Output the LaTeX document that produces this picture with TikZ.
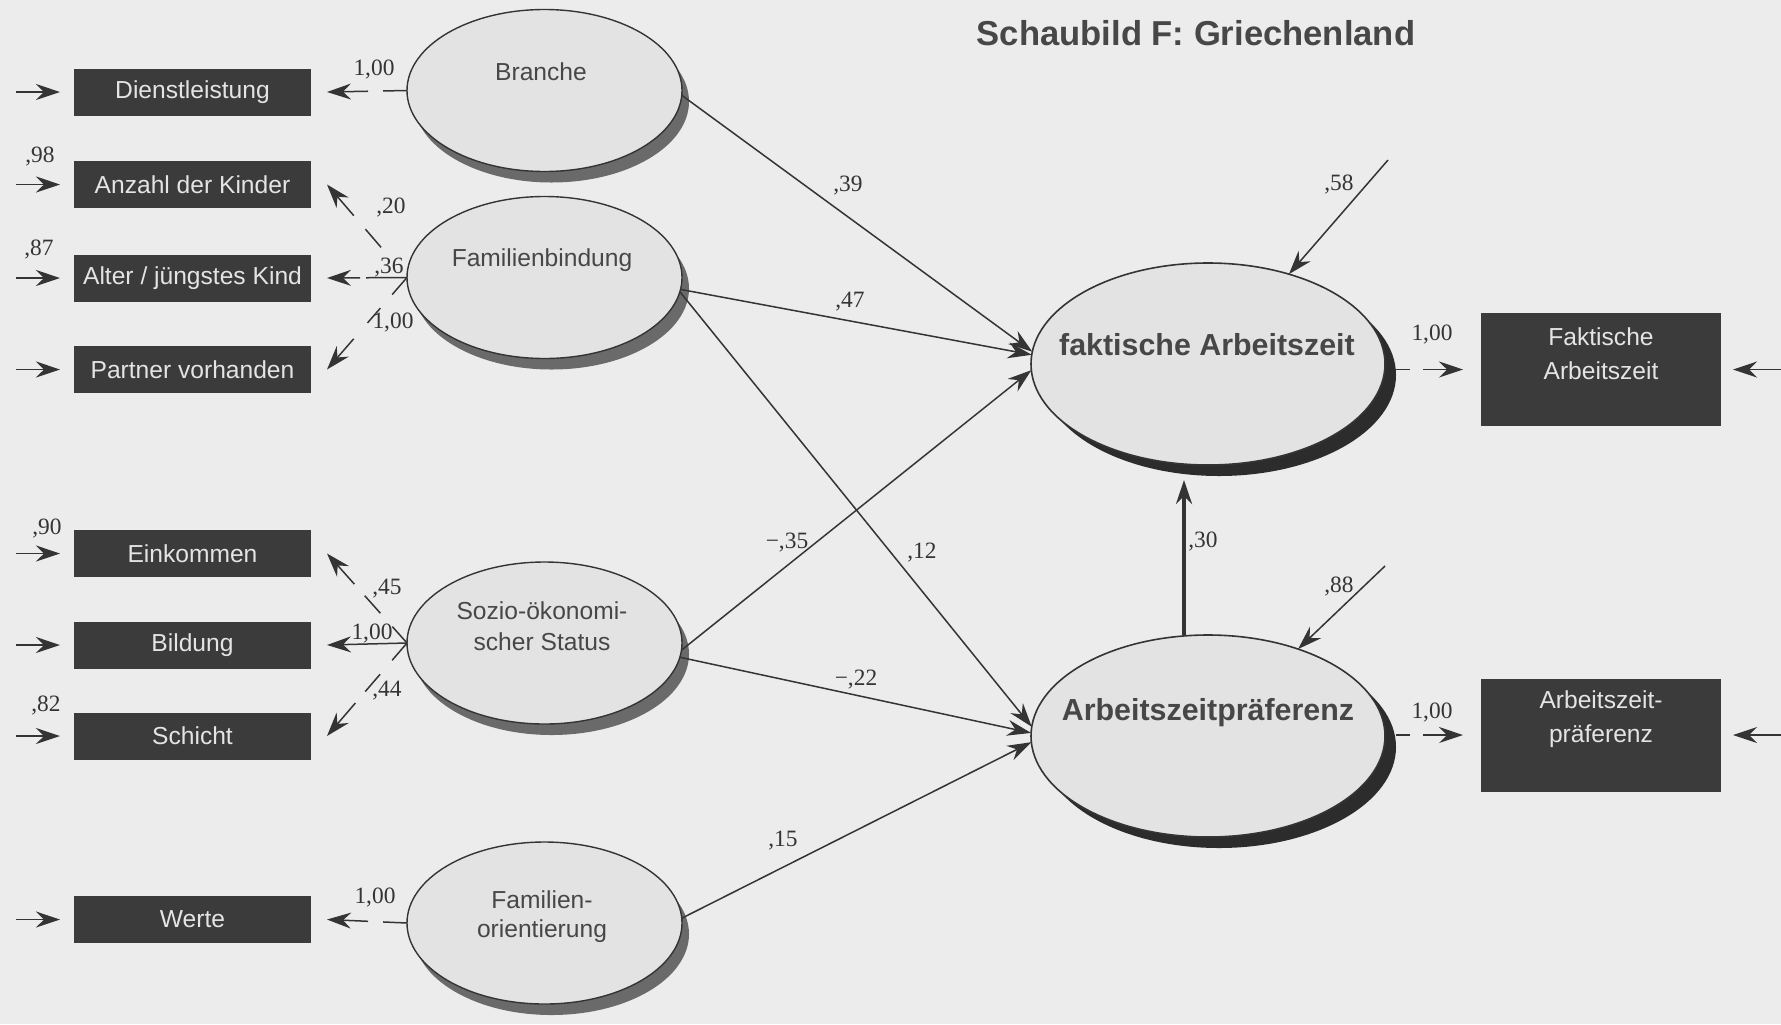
\documentclass[tikz,border=0pt]{standalone}
\usepackage{fontspec}
\setmainfont{Liberation Sans}
\newfontfamily\numfont{Liberation Serif}
\usetikzlibrary{arrows.meta,shapes.geometric,shadows,calc}
\definecolor{bg}{HTML}{ECECEC}
\definecolor{boxfill}{HTML}{3B3B3B}
\definecolor{boxtext}{HTML}{E4E4E4}
\definecolor{ellfill}{HTML}{E3E3E3}
\definecolor{ink}{HTML}{343434}
\definecolor{txt}{HTML}{474747}
\definecolor{shadL}{HTML}{6A6A6A}
\definecolor{shadR}{HTML}{2C2C2C}
\begin{document}
\begin{tikzpicture}[x=0.5pt,y=-0.5pt,
  every node/.style={inner sep=0pt,outer sep=0pt},
  obs/.style={fill=boxfill,minimum width=118.5pt,minimum height=23.5pt,text=boxtext,font=\fontsize{12.3pt}{14pt}\selectfont},
  obsR/.style={fill=boxfill,minimum width=120pt,minimum height=56.5pt},
  obstext/.style={text=boxtext,font=\fontsize{12.3pt}{14pt}\selectfont,anchor=base},
  lat/.style={ellipse,draw=ink,line width=0.7pt,fill=ellfill,minimum width=137.5pt,minimum height=81pt,
    drop shadow={shadow xshift=3.5pt,shadow yshift=-5.5pt,fill=shadL,opacity=1}},
  dv/.style={ellipse,draw=ink,line width=0.8pt,fill=ellfill,minimum width=177pt,minimum height=101pt,
    drop shadow={shadow xshift=5.5pt,shadow yshift=-5.5pt,fill=shadR,opacity=1}},
  lattext/.style={text=txt,font=\fontsize{12.3pt}{14pt}\selectfont,anchor=base},
  dvtext/.style={text=txt,font=\fontsize{15.2pt}{18pt}\selectfont\bfseries,anchor=base},
  num/.style={text=ink,font=\numfont\fontsize{11.7pt}{13pt}\selectfont},
  arr/.style={draw=ink,line width=0.75pt,-{Stealth[length=12pt,width=8pt,inset=4pt]}}
]
\useasboundingbox (0,0) rectangle (1781,1024);
\fill[bg] (0,0) rectangle (1781,1024);

% title
\node[text=txt,font=\fontsize{17.3pt}{20pt}\selectfont\bfseries,anchor=base] (title) at (1196,45) {Schaubild F: Griechenland};

% observed indicators (left)
\node[obs] (dl) at (192.5,92) {Dienstleistung};
\node[obs] (ak) at (192.5,184.5) {Anzahl der Kinder};
\node[obs] (aj) at (192.5,278) {Alter / jüngstes Kind};
\node[obs] (pv) at (192.5,369.5) {Partner vorhanden};
\node[obs] (ek) at (192.5,553.5) {Einkommen};
\node[obs] (bi) at (192.5,645) {Bildung};
\node[obs] (sc) at (192.5,736) {Schicht};
\node[obs] (we) at (192.5,919.5) {Werte};

% latent variables (left)
\node[lat] (br) at (544.5,90.5) {};
\node[lat] (fb) at (544.5,277.5) {};
\node[lat] (so) at (544.5,643) {};
\node[lat] (fo) at (544.5,923) {};
\node[lattext] (brt) at (541,80) {Branche};
\node[lattext] (fbt) at (542,266) {Familienbindung};
\node[lattext] (sot1) at (542,619) {Sozio-ökonomi-};
\node[lattext] (sot2) at (542,650) {scher Status};
\node[lattext] (fot1) at (542,908) {Familien-};
\node[lattext] (fot2) at (542,937) {orientierung};

% dependent latents
\node[dv] (fa) at (1208,364) {};
\node[dv] (ap) at (1208,736) {};
\node[dvtext] (fat) at (1207,355) {faktische Arbeitszeit};
\node[dvtext] (apt) at (1208,720) {Arbeitszeitpräferenz};

% right indicators
\node[obsR] (rb1) at (1601,369.5) {};
\node[obsR] (rb2) at (1601,735) {};
\node[obstext] (rb1a) at (1601,345) {Faktische};
\node[obstext] (rb1b) at (1601,379) {Arbeitszeit};
\node[obstext] (rb2a) at (1601,708) {Arbeitszeit-};
\node[obstext] (rb2b) at (1601,742) {präferenz};

% error arrows into left indicators
\foreach \b in {dl,ak,aj,pv,ek,bi,sc,we}
  \draw[arr] ($(\b.west)+(-58,0)$) -- ($(\b.west)+(-14,0)$);
% error arrows into right indicators
\draw[arr] ($(rb1.east)+(60,0)$) -- ($(rb1.east)+(12,0)$);
\draw[arr] ($(rb2.east)+(60,0)$) -- ($(rb2.east)+(12,0)$);

% loadings
\draw[arr,dash pattern=on 12pt off 7.5pt on 80pt] (br.west) -- ($(dl.east)+(16,0)$);
\draw[arr,dash pattern=on 0pt off 19.9pt on 12pt off 8.9pt on 80pt] (fb.west) -- ($(ak.east)+(16,0)$);
\draw[arr,dash pattern=on 20.5pt off 3pt on 80pt] (fb.west) -- ($(aj.east)+(16,0)$);
\draw[arr,dash pattern=on 11.3pt off 9pt on 9.8pt off 10.5pt on 80pt] (fb.west) -- ($(pv.east)+(16,0)$);
\draw[arr,dash pattern=on 11pt off 9pt on 11.7pt off 7.8pt on 80pt] (so.west) -- ($(ek.east)+(16,0)$);
\draw[arr] (so.west) -- ($(bi.east)+(16,0)$);
\draw[arr,dash pattern=on 11.4pt off 9.2pt on 11.4pt off 7.6pt on 80pt] (so.west) -- ($(sc.east)+(16,0)$);
\draw[arr,dash pattern=on 12pt off 7.5pt on 80pt] (fo.west) -- ($(we.east)+(16,0)$);

% right loadings
\draw[arr,shorten <=5.5pt,dash pattern=on 7pt off 6.5pt on 80pt] (fa.east |- rb1.west) -- ($(rb1.west)+(-18,0)$);
\draw[arr,shorten <=5.5pt,dash pattern=on 7pt off 6.5pt on 80pt] (ap.east |- rb2.west) -- ($(rb2.west)+(-18,0)$);

% structural paths
\draw[arr] (br.-2) -- (fa.176);
\draw[arr] (fb.-5) -- (fa.177);
\draw[arr] (fb.-6) -- (ap.177);
\draw[arr] (so.-3) -- (fa.182);
\draw[arr] (so.-6) -- (ap.179);
\draw[arr] (fo.2) -- (ap.182);

% residuals
\coordinate (e58) at (1388,160);
\coordinate (e88) at (1385,566);
\draw[arr] (e58) -- (fa.48.5);
\draw[arr] (e88) -- (ap.44);

% ap -> fa
\coordinate (tx) at (1184,0);
\draw[arr,line width=2pt] (ap.north -| tx) -- ($(fa.south -| tx)+(0,15)$);

% coefficients
\node[num] (n1) at (374,70) {1,00};
\node[num] (n2) at (40,157) {,98};
\node[num] (n3) at (39,250) {,87};
\node[num] (n4) at (391,208) {,20};
\node[num] (n5) at (389,268) {,36};
\node[num] (n6) at (393,323) {1,00};
\node[num] (n7) at (47,529) {,90};
\node[num] (n8) at (387,589) {,45};
\node[num] (n9) at (372,634) {1,00};
\node[num] (n10) at (387,691) {,44};
\node[num] (n11) at (46,706) {,82};
\node[num] (n12) at (375,897) {1,00};
\node[num] (n13) at (848,186) {,39};
\node[num] (n14) at (850,302) {,47};
\node[num] (n15) at (787,543) {−,35};
\node[num] (n16) at (922,553) {,12};
\node[num] (n17) at (856,680) {−,22};
\node[num] (n18) at (783,841) {,15};
\node[num] (n19) at (1339,185) {,58};
\node[num] (n20) at (1339,587) {,88};
\node[num] (n21) at (1203,542) {,30};
\node[num] (n22) at (1432,335) {1,00};
\node[num] (n23) at (1432,713) {1,00};
\end{tikzpicture}
\end{document}
